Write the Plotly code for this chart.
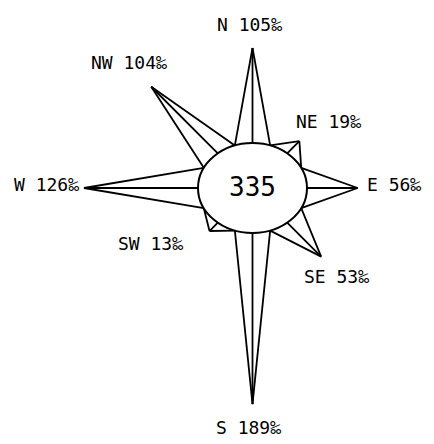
import math
import plotly.graph_objects as go

# wind directions (per mille) and calm share shown in the centre
directions = ["N", "NE", "E", "SE", "S", "SW", "W", "NW"]
bearings = [0, 45, 90, 135, 180, 225, 270, 315]
values = [105, 19, 56, 53, 189, 13, 126, 104]
calm = 335

RX, RY = 54.5, 45.0      # centre ellipse half-axes (px)
SCALE = 0.905            # px per per-mille
SPREAD = 22.5            # half-angle of each arm at the ellipse
FONT = "DejaVu Sans Mono"
PAD = 8                  # page body margin

# label placement per direction: xanchor, xshift, yshift
label_pos = {
    "N": ("center", -3, 23),
    "NE": ("left", -5, 20),
    "E": ("left", 7, 4),
    "SE": ("center", 15, -20),
    "S": ("center", -4, -23),
    "SW": ("right", -24, -12),
    "W": ("right", -3, 4),
    "NW": ("center", -22, 24),
}


def unit(bearing):
    a = math.radians(bearing)
    return math.sin(a), math.cos(a)


def on_ellipse(bearing):
    dx, dy = unit(bearing)
    t = 1 / math.sqrt(dx ** 2 / RX ** 2 + dy ** 2 / RY ** 2)
    return dx * t, dy * t


fig = go.Figure()
xs, ys = [], []
for name, b, v in zip(directions, bearings, values):
    ex, ey = on_ellipse(b)
    dx, dy = unit(b)
    tx, ty = ex + v * SCALE * dx, ey + v * SCALE * dy
    for side in (b - SPREAD, b, b + SPREAD):
        sx, sy = on_ellipse(side)
        xs += [sx, tx, None]
        ys += [sy, ty, None]
    anchor, xsh, ysh = label_pos[name]
    fig.add_annotation(x=tx, y=ty, text=f"{name} {v}\u2030", showarrow=False,
                       xanchor=anchor, yanchor="middle", xshift=xsh, yshift=ysh,
                       font=dict(family=FONT, size=18, color="#000"))

fig.add_trace(go.Scatter(x=xs, y=ys, mode="lines", hoverinfo="skip",
                         line=dict(color="#000", width=1.8)))

fig.add_shape(type="circle", x0=-RX, x1=RX, y0=-RY, y1=RY,
              line=dict(color="#000", width=2), fillcolor="white", layer="above")
fig.add_annotation(x=0, y=0, text=str(calm), showarrow=False, yshift=1,
                   font=dict(family=FONT, size=26, color="#000"))

fig.update_layout(
    width=434 - PAD, height=444 - PAD,
    margin=dict(l=0, r=0, t=0, b=0),
    paper_bgcolor="white", plot_bgcolor="white",
    showlegend=False,
    xaxis=dict(range=[PAD - 252.5, 181.5], visible=False, fixedrange=True),
    yaxis=dict(range=[-256, 188 - PAD], visible=False, fixedrange=True),
)
fig.write_html("out.html", config={"displayModeBar": False})
